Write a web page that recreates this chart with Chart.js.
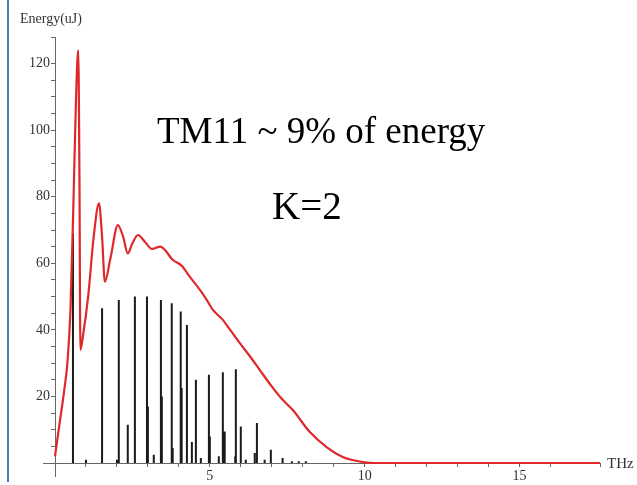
<!DOCTYPE html>
<html>
<head>
<meta charset="utf-8">
<script src="https://cdn.jsdelivr.net/npm/chart.js@4"></script>
<style>
  html, body { margin: 0; padding: 0; background: #fff; }
  #wrap { width: 637px; height: 485px; }
</style>
</head>
<body>
<div id="wrap"><canvas id="myChart" width="637" height="485"></canvas></div>
<script>
// red curve: total energy spectrum
const curveFreq = [0, 0.15, 0.3, 0.4, 0.5, 0.6, 0.68, 0.75, 0.79, 0.82, 0.9, 1.07, 1.25, 1.42, 1.52, 1.61,
    1.8, 2.03, 2.2, 2.35, 2.5, 2.68, 2.9, 3.13, 3.4, 3.81, 4.1, 4.35, 4.68, 4.9, 5.1, 5.42, 5.58,
    5.97, 6.3, 6.61, 7.0, 7.3, 7.68, 8.23, 8.77, 9.29, 9.6, 10.0, 10.3, 17.6];
const curveEnergy = [2, 12, 22, 30, 46, 80, 110, 124, 85, 34, 38, 50, 68, 78, 68, 54.5,
    62, 71.5, 68, 63, 66, 68.5, 66.5, 64.3, 65, 61, 59.2, 56, 52, 49, 46, 43, 41,
    36, 32, 28, 23, 19.5, 15.9, 9.3, 4.8, 1.8, 0.9, 0.2, 0, 0];

// black spikes: TM11 mode lines
const spikeFreq = [0.58, 1.0, 1.52, 2.0, 2.06, 2.35, 2.58, 2.97, 3.0, 3.19, 3.42, 3.45, 3.77, 3.8,
    4.06, 4.09, 4.26, 4.42, 4.55, 4.71, 4.97, 5.0, 5.29, 5.42, 5.48, 5.82, 5.84, 6.0, 6.16,
    6.45, 6.52, 6.77, 6.97, 7.35, 7.65, 7.87, 8.1];
const spikeEnergy = [69, 1, 46.5, 1, 49, 11.5, 50, 50, 17, 2.5, 49, 20, 48, 4.5,
    45.5, 22.5, 41.5, 6.3, 25, 1.5, 26.5, 8, 2, 27.3, 9.5, 2, 28.2, 11, 1,
    3, 12, 1, 4, 1.5, 0.5, 0.5, 0.5];

const xTickLabels = [5, 10, 15];
const yTickLabels = [20, 40, 60, 80, 100, 120];

const curvePoints = curveFreq.map((f, i) => ({ x: f, y: curveEnergy[i] }));
const spikePoints = [];
spikeFreq.forEach((f, i) => {
    spikePoints.push({ x: f, y: 0 }, { x: f, y: spikeEnergy[i] }, { x: f, y: null });
});

const serif = "'Liberation Serif', 'DejaVu Serif', serif";

const textPlugin = {
    id: "texts",
    afterDraw(chart) {
        const c = chart.ctx;
        const xs = chart.scales.x, ys = chart.scales.y;
        c.save();
        // slide border line on the left
        c.fillStyle = "#4a7ebb";
        c.fillRect(7, 0, 2, 482);

        // little axis overhang past the origin
        const x0 = xs.getPixelForValue(0), y0 = ys.getPixelForValue(0);
        c.strokeStyle = "#666";
        c.lineWidth = 1;
        c.beginPath();
        c.moveTo(x0 - 12, y0 + 0.5);
        c.lineTo(x0, y0 + 0.5);
        c.moveTo(x0 + 0.5, y0);
        c.lineTo(x0 + 0.5, y0 + 14);
        c.stroke();

        c.fillStyle = "#000";
        c.textBaseline = "alphabetic";
        c.textAlign = "left";
        c.font = "37px " + serif;
        c.fillText("TM11 ~ 9% of energy", 157, 143);
        c.font = "39px " + serif;
        c.fillText("K=2", 272, 219);

        c.fillStyle = "#333";
        c.textBaseline = "middle";
        c.font = "14px " + serif;
        c.fillText("Energy(uJ)", 20, 19);
        c.font = "15px " + serif;
        c.fillText("THz", 607, 464);
        c.restore();
    },
};

const ctx = document.getElementById("myChart");

new Chart(ctx, {
    type: "line",
    data: {
        datasets: [
            {
                label: "energy",
                data: curvePoints,
                borderColor: "#e0282a",
                borderWidth: 2.2,
                pointRadius: 0,
                cubicInterpolationMode: "monotone",
                clip: 4,
            },
            {
                label: "TM11",
                data: spikePoints,
                borderColor: "#1a1a1a",
                borderWidth: 2,
                pointRadius: 0,
                tension: 0,
                spanGaps: false,
                borderCapStyle: "butt",
            },
        ],
    },
    plugins: [textPlugin],
    options: {
        responsive: false,
        animation: false,
        layout: {
            padding: { left: 0, top: 37, right: 37, bottom: 0 },
        },
        plugins: {
            legend: { display: false },
            tooltip: { enabled: false },
        },
        scales: {
            x: {
                type: "linear",
                min: 0,
                max: 17.6,
                afterFit: (scale) => { scale.height = 22; },
                border: { color: "#666", width: 1 },
                grid: { drawOnChartArea: false, tickLength: 4, color: "#666" },
                ticks: {
                    stepSize: 1,
                    autoSkip: false,
                    maxRotation: 0,
                    padding: 1,
                    color: "#333",
                    font: { family: serif, size: 14 },
                    callback: (v) => (xTickLabels.includes(v) ? String(v) : ""),
                },
            },
            y: {
                min: 0,
                max: 128,
                afterFit: (scale) => { scale.width = 55; },
                border: { color: "#666", width: 1 },
                grid: { drawOnChartArea: false, tickLength: 4, color: "#666" },
                ticks: {
                    stepSize: 5,
                    autoSkip: false,
                    padding: 1,
                    color: "#333",
                    font: { family: serif, size: 14 },
                    callback: (v) => (yTickLabels.includes(v) ? String(v) : ""),
                },
            },
        },
    },
});
</script>
</body>
</html>
